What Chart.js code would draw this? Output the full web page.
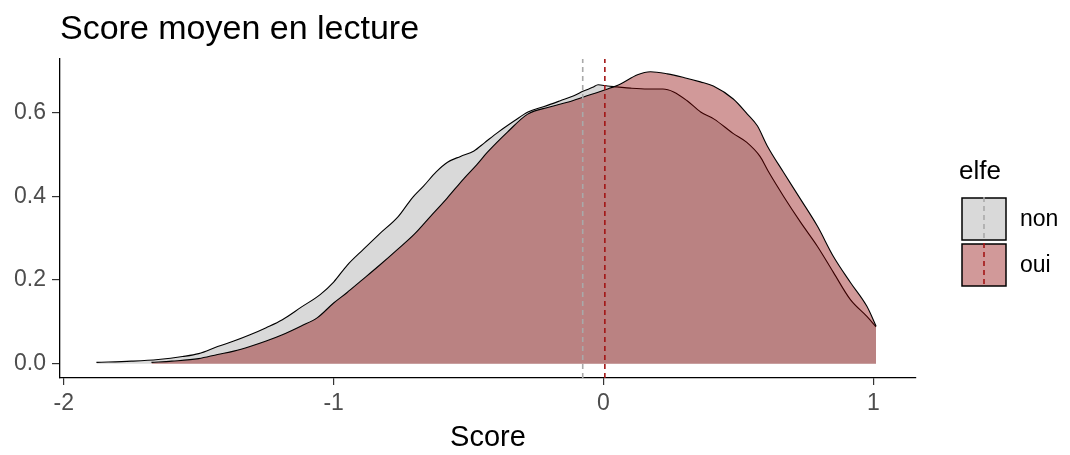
<!DOCTYPE html>
<html>
<head>
<meta charset="utf-8">
<script src="https://cdn.jsdelivr.net/npm/chart.js@4/dist/chart.umd.min.js"></script>
<style>
  html, body { margin: 0; padding: 0; background: #ffffff; }
  #wrap { position: relative; width: 1070px; height: 455px; }
</style>
</head>
<body>
<div id="wrap"><canvas id="c" width="1070" height="455"></canvas></div>
<script>
// ---------- data ----------
const chartTitle = 'Score moyen en lecture';
const xAxisTitle = 'Score';
const legendTitle = 'elfe';
const groups = ['non', 'oui'];

const xTicks = [-2, -1, 0, 1];
const xTickLabels = ['-2', '-1', '0', '1'];
const yTicks = [0, 0.2, 0.4, 0.6];
const yTickLabels = ['0.0', '0.2', '0.4', '0.6'];

// density of "non"
const nonX = [-1.879, -1.75, -1.65, -1.56, -1.50, -1.43, -1.37, -1.31, -1.25, -1.19, -1.12, -1.05, -1.00, -0.95, -0.89, -0.83, -0.76, -0.71, -0.667, -0.62, -0.578, -0.53, -0.48, -0.44, -0.39, -0.33, -0.28, -0.22, -0.16, -0.11, -0.074, -0.04, -0.02, 0.015, 0.05, 0.10, 0.163, 0.22, 0.26, 0.31, 0.36, 0.41, 0.48, 0.53, 0.58, 0.61, 0.667, 0.73, 0.793, 0.852, 0.915, 0.976, 1.01];
const nonY = [0.003, 0.006, 0.010, 0.017, 0.024, 0.041, 0.054, 0.069, 0.086, 0.105, 0.135, 0.165, 0.195, 0.235, 0.273, 0.310, 0.352, 0.395, 0.424, 0.458, 0.481, 0.495, 0.508, 0.528, 0.553, 0.580, 0.601, 0.614, 0.628, 0.640, 0.651, 0.660, 0.666, 0.663, 0.661, 0.658, 0.656, 0.656, 0.649, 0.628, 0.601, 0.584, 0.550, 0.529, 0.495, 0.460, 0.400, 0.338, 0.280, 0.218, 0.153, 0.113, 0.088];

// density of "oui"
const ouiX = [-1.675, -1.60, -1.50, -1.43, -1.37, -1.31, -1.25, -1.19, -1.12, -1.06, -1.00, -0.95, -0.90, -0.83, -0.763, -0.70, -0.641, -0.58, -0.519, -0.47, -0.43, -0.356, -0.281, -0.20, -0.13, -0.074, 0.015, 0.063, 0.126, 0.174, 0.237, 0.30, 0.359, 0.407, 0.481, 0.533, 0.57, 0.607, 0.667, 0.73, 0.793, 0.852, 0.915, 0.976, 1.01];
const ouiY = [0.003, 0.006, 0.012, 0.022, 0.030, 0.041, 0.054, 0.069, 0.090, 0.110, 0.145, 0.170, 0.197, 0.235, 0.273, 0.310, 0.352, 0.395, 0.441, 0.475, 0.505, 0.553, 0.596, 0.613, 0.625, 0.637, 0.656, 0.668, 0.690, 0.697, 0.692, 0.683, 0.673, 0.663, 0.632, 0.596, 0.568, 0.520, 0.457, 0.393, 0.328, 0.256, 0.194, 0.137, 0.090];

// group means (dashed lines)
const means = [-0.077, 0.005];

// ---------- styles ----------
const FONT = '"Liberation Sans", Arial, sans-serif';
const fills = ['#d9d9d9', 'rgba(139,0,0,0.4)'];
const meanColors = ['#a9a9a9', '#a31515'];
const X_MIN = -2.014, X_MAX = 1.158;
const Y_MIN = -0.0342, Y_MAX = 0.7276;

const toPts = (xs, ys) => xs.map((x, i) => ({ x: x, y: ys[i] }));

const datasets = [
  { label: groups[0], data: toPts(nonX, nonY), backgroundColor: fills[0], borderColor: '#000', borderWidth: 1.1,
    fill: 'origin', pointRadius: 0, cubicInterpolationMode: 'monotone', order: 4 },
  { label: groups[1], data: toPts(ouiX, ouiY), backgroundColor: fills[1], borderColor: '#000', borderWidth: 1.1,
    fill: 'origin', pointRadius: 0, cubicInterpolationMode: 'monotone', order: 3 },
  { label: 'mean ' + groups[0], data: [{ x: means[0], y: Y_MIN }, { x: means[0], y: Y_MAX }],
    borderColor: meanColors[0], borderWidth: 1.6, borderDash: [5, 4], fill: false, pointRadius: 0, order: 2 },
  { label: 'mean ' + groups[1], data: [{ x: means[1], y: Y_MIN }, { x: means[1], y: Y_MAX }],
    borderColor: meanColors[1], borderWidth: 1.6, borderDash: [5, 4], fill: false, pointRadius: 0, order: 1 }
];

const decor = {
  id: 'decor',
  afterDraw(chart) {
    const ctx = chart.ctx;
    ctx.save();
    // title
    ctx.fillStyle = '#000';
    ctx.font = '34px ' + FONT;
    ctx.textBaseline = 'alphabetic';
    ctx.textAlign = 'left';
    ctx.fillText(chartTitle, 60, 39);
    // legend
    ctx.font = '26px ' + FONT;
    ctx.fillText(legendTitle, 959, 179);
    const keyX = 962, keyW = 44, keyH = 42;
    const keyYs = [198, 244];
    for (let i = 0; i < groups.length; i++) {
      const y = keyYs[i];
      ctx.fillStyle = '#ffffff';
      ctx.fillRect(keyX, y, keyW, keyH);
      ctx.fillStyle = fills[i];
      ctx.fillRect(keyX, y, keyW, keyH);
      ctx.strokeStyle = '#000';
      ctx.lineWidth = 1.5;
      ctx.setLineDash([]);
      ctx.strokeRect(keyX, y, keyW, keyH);
      ctx.strokeStyle = meanColors[i];
      ctx.lineWidth = 1.6;
      ctx.setLineDash([5, 4]);
      ctx.beginPath();
      ctx.moveTo(keyX + keyW / 2, y - 1);
      ctx.lineTo(keyX + keyW / 2, y + keyH + 1);
      ctx.stroke();
      ctx.setLineDash([]);
      ctx.fillStyle = '#000';
      ctx.font = '23px ' + FONT;
      ctx.textBaseline = 'middle';
      ctx.fillText(groups[i], 1020, y + keyH / 2 + 1);
    }
    ctx.restore();
  }
};

new Chart(document.getElementById('c'), {
  type: 'line',
  data: { datasets: datasets },
  plugins: [decor],
  options: {
    responsive: false,
    animation: false,
    devicePixelRatio: 1,
    layout: { padding: { top: 59, right: 154, left: 0, bottom: 0 } },
    plugins: {
      legend: { display: false },
      title: { display: false },
      tooltip: { enabled: false },
      filler: { drawTime: 'beforeDatasetDraw' }
    },
    scales: {
      x: {
        type: 'linear',
        min: X_MIN, max: X_MAX,
        afterBuildTicks: s => { s.ticks = xTicks.map(v => ({ value: v })); },
        afterFit: s => { s.height = 77; },
        ticks: {
          callback: (v) => { const i = xTicks.indexOf(v); return i >= 0 ? xTickLabels[i] : ''; },
          color: '#4d4d4d', font: { family: FONT, size: 23 }, padding: 5, maxRotation: 0, autoSkip: false
        },
        grid: { display: true, drawOnChartArea: false, drawTicks: true, tickLength: 7, color: '#333', lineWidth: 1.2 },
        border: { display: true, color: '#000', width: 1.3 },
        title: { display: true, text: xAxisTitle, color: '#000', font: { family: FONT, size: 29 }, padding: { top: 0, bottom: 0 } }
      },
      y: {
        type: 'linear',
        min: Y_MIN, max: Y_MAX,
        afterBuildTicks: s => { s.ticks = yTicks.map(v => ({ value: v })); },
        afterFit: s => { s.width = 60; },
        ticks: {
          callback: (v) => { const i = yTicks.findIndex(t => Math.abs(t - v) < 1e-9); return i >= 0 ? yTickLabels[i] : ''; },
          color: '#4d4d4d', font: { family: FONT, size: 23 }, padding: 6, autoSkip: false
        },
        grid: { display: true, drawOnChartArea: false, drawTicks: true, tickLength: 8, color: '#333', lineWidth: 1.2 },
        border: { display: true, color: '#000', width: 1.3 }
      }
    }
  }
});
</script>
</body>
</html>
